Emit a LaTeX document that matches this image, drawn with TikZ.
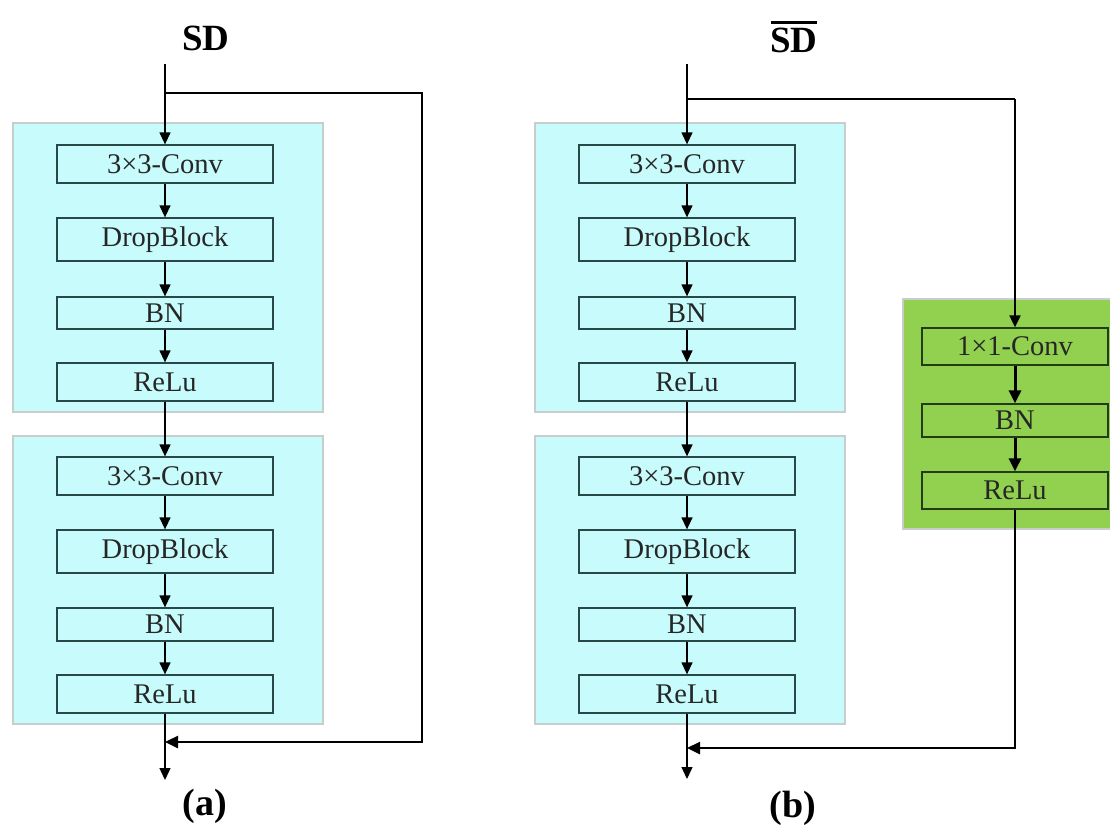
\documentclass[tikz,border=0pt]{standalone}
\usepackage{fontspec}
\setmainfont{Liberation Serif}
\usetikzlibrary{arrows.meta}
\definecolor{cyanbg}{RGB}{200,252,252}
\definecolor{cyanedge}{RGB}{40,72,72}
\definecolor{outeredge}{RGB}{200,205,205}
\definecolor{greenbg}{RGB}{146,208,80}
\definecolor{greenedge}{RGB}{36,60,20}
\begin{document}
\begin{tikzpicture}[x=1pt,y=-1pt,
  outerbox/.style={draw=outeredge, line width=2pt, fill=cyanbg, inner sep=0pt, minimum width=310pt},
  cbox/.style={draw=cyanedge, line width=1.3pt, fill=cyanbg, minimum width=216pt, inner sep=0pt,
    font=\fontsize{28.5}{30}\selectfont, text=black!85},
  gbox/.style={draw=greenedge, line width=1.3pt, fill=greenbg, minimum width=186pt, inner sep=0pt,
    font=\fontsize{28.5}{30}\selectfont, text=black!85},
  title/.style={font=\fontsize{37}{42}\selectfont\bfseries, inner sep=0pt},
  capt/.style={font=\fontsize{38}{44}\selectfont\bfseries, inner sep=0pt},
  flow/.style={line width=1.3pt, -{Triangle[length=12pt,width=11pt]}},
  plain/.style={line width=1.3pt},
  skipline/.style={line width=2.5pt},
  gflow/.style={line width=3pt, -{Triangle[length=13pt,width=12pt]}}
]
\useasboundingbox (0,0) rectangle (1110,825);

% ---------- (a) ----------
\node[outerbox, minimum height=289pt] (oa1) at (168,267.5) {};
\node[outerbox, minimum height=288pt] (oa2) at (168,580) {};
\node[cbox, minimum height=38pt] (a1) at (165,164) {3×3-Conv};
\node[cbox, minimum height=43pt] (a2) at (165,239.5) {DropBlock};
\node[cbox, minimum height=32pt] (a3) at (165,313) {BN};
\node[cbox, minimum height=38pt] (a4) at (165,382) {ReLu};
\node[cbox, minimum height=38pt] (a5) at (165,476) {3×3-Conv};
\node[cbox, minimum height=43pt] (a6) at (165,551.5) {DropBlock};
\node[cbox, minimum height=33pt] (a7) at (165,624.5) {BN};
\node[cbox, minimum height=38pt] (a8) at (165,694) {ReLu};

\node[title] (ta) at (206,38) {SD};
\node[capt] (ca) at (205,806) {(a)};

\coordinate (inA) at (165,64);
\coordinate (brA) at (165,93);
\coordinate (rA1) at (422,93);
\coordinate (rA2) at (422,742);
\coordinate (jA) at (165,742);
\coordinate (outA) at (165,780);

\draw[flow] (inA) -- (a1.north);
\draw[flow] (a1) -- (a2);
\draw[flow] (a2) -- (a3);
\draw[flow] (a3) -- (a4);
\draw[flow] (a4) -- (a5);
\draw[flow] (a5) -- (a6);
\draw[flow] (a6) -- (a7);
\draw[flow] (a7) -- (a8);
\draw[plain] (a8.south) -- (jA);
\draw[flow] (jA) -- (outA);
\draw[skipline, -{Triangle[length=13pt,width=12pt]}] (brA) -- (rA1) -- (rA2) -- (jA);

% ---------- (b) ----------
\node[outerbox, minimum height=289pt] (ob1) at (690,267.5) {};
\node[outerbox, minimum height=288pt] (ob2) at (690,580) {};
\node[cbox, minimum height=38pt] (b1) at (687,164) {3×3-Conv};
\node[cbox, minimum height=43pt] (b2) at (687,239.5) {DropBlock};
\node[cbox, minimum height=32pt] (b3) at (687,313) {BN};
\node[cbox, minimum height=38pt] (b4) at (687,382) {ReLu};
\node[cbox, minimum height=38pt] (b5) at (687,476) {3×3-Conv};
\node[cbox, minimum height=43pt] (b6) at (687,551.5) {DropBlock};
\node[cbox, minimum height=33pt] (b7) at (687,624.5) {BN};
\node[cbox, minimum height=38pt] (b8) at (687,694) {ReLu};

% green branch
\fill[greenbg] (903,299) rectangle (1110,529);
\draw[draw=outeredge, line width=2pt] (1110,299) -- (903,299) -- (903,529) -- (1110,529);
\node[gbox, minimum height=37pt] (g1) at (1015,346.5) {1×1-Conv};
\node[gbox, minimum height=33pt] (g2) at (1015,420.5) {BN};
\node[gbox, minimum height=37pt] (g3) at (1015,490.5) {ReLu};

\node[title] (tb) at (794,40) {SD};
\draw[line width=3pt] ([xshift=1pt,yshift=5pt]tb.north west) -- ([xshift=-1pt,yshift=5pt]tb.north east);
\node[capt] (cb) at (793,808) {(b)};

\coordinate (inB) at (687,64);
\coordinate (brB) at (687,99);
\coordinate (rB1) at (1015,99);
\coordinate (rB2) at (1015,748);
\coordinate (jB) at (687,748);
\coordinate (outB) at (687,779);

\draw[flow] (inB) -- (b1.north);
\draw[flow] (b1) -- (b2);
\draw[flow] (b2) -- (b3);
\draw[flow] (b3) -- (b4);
\draw[flow] (b4) -- (b5);
\draw[flow] (b5) -- (b6);
\draw[flow] (b6) -- (b7);
\draw[flow] (b7) -- (b8);
\draw[plain] (b8.south) -- (jB);
\draw[flow] (jB) -- (outB);
\draw[skipline] (brB) -- (rB1);
\draw[line width=2pt, -{Triangle[length=12pt,width=11pt]}] (rB1) -- (g1.north);
\draw[gflow] (g1) -- (g2);
\draw[gflow] (g2) -- (g3);
\draw[skipline, -{Triangle[length=13pt,width=12pt]}] (g3.south) -- (rB2) -- (jB);
\end{tikzpicture}
\end{document}
